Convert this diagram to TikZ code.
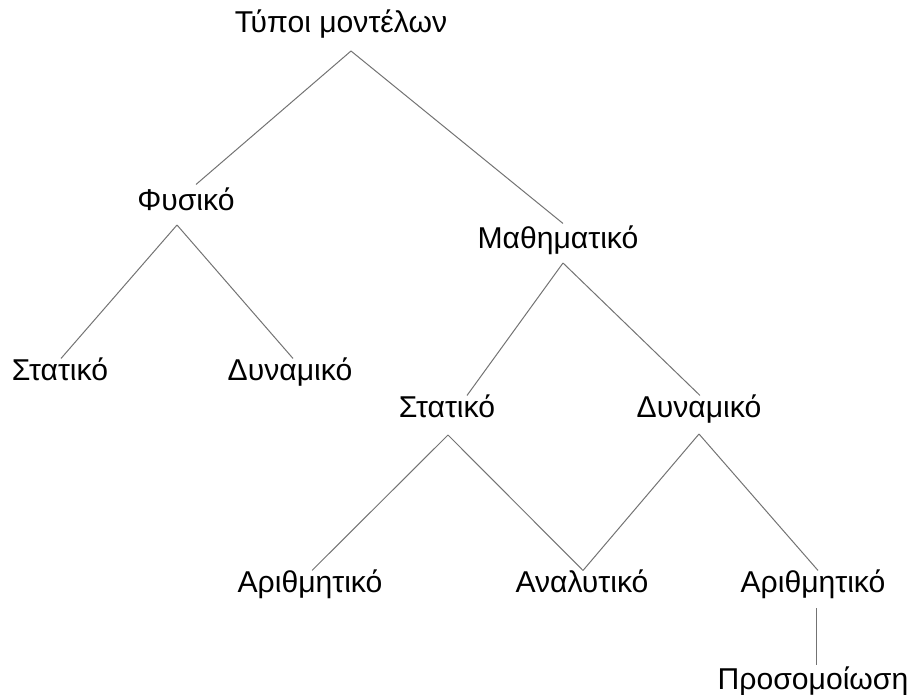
\documentclass[tikz,border=0pt]{standalone}
\usepackage{fontspec}
\setmainfont{Liberation Sans}
\begin{document}
\begin{tikzpicture}[x=0.75pt,y=-0.75pt,
  label/.style={font=\fontsize{22.6}{27}\selectfont, inner sep=0pt,
    text height=15.75pt, text depth=0pt, anchor=south},
  branch/.style={draw=black!55, line width=0.75pt}]
\useasboundingbox (0,0) rectangle (913,695);

% category labels (positioned by baseline centre)
\node[label] (root)   at (341,33)  {Τύποι μοντέλων};
\node[label] (phys)   at (186,211) {Φυσικό};
\node[label] (math)   at (558,249) {Μαθηματικό};
\node[label] (stat1)  at (60,381)  {Στατικό};
\node[label] (dyn1)   at (290,381) {Δυναμικό};
\node[label] (stat2)  at (447,418) {Στατικό};
\node[label] (dyn2)   at (699,418) {Δυναμικό};
\node[label] (arith1) at (310,593) {Αριθμητικό};
\node[label] (anal)   at (582,593) {Αναλυτικό};
\node[label] (arith2) at (813,593) {Αριθμητικό};
\node[label] (sim)    at (813,690) {Προσομοίωση};

% tree branches
\draw[branch] ([shift={(10,18)}]root.south) -- ([shift={(10,-5)}]phys.north);
\draw[branch] ([shift={(10,18)}]root.south) -- ([shift={(5,-4)}]math.north);
\draw[branch] ([shift={(-9,14)}]phys.south) -- ([shift={(1,-1)}]stat1.north);
\draw[branch] ([shift={(-9,14)}]phys.south) -- ([shift={(3,-1)}]dyn1.north);
\draw[branch] ([shift={(5,14)}]math.south) -- ([shift={(20,-1)}]stat2.north);
\draw[branch] ([shift={(5,14)}]math.south) -- ([shift={(1,-1)}]dyn2.north);
\draw[branch] ([shift={(1,17)}]stat2.south) -- ([shift={(2,-1)}]arith1.north);
\draw[branch] ([shift={(1,17)}]stat2.south) -- ([shift={(1,-1)}]anal.north);
\draw[branch] ([shift={(0,16)}]dyn2.south) -- ([shift={(1,-1)}]anal.north);
\draw[branch] ([shift={(0,16)}]dyn2.south) -- ([shift={(5,-1)}]arith2.north);
\draw[branch] ([shift={(3,15)}]arith2.south) -- ([shift={(3,-3)}]sim.north);
\end{tikzpicture}
\end{document}
